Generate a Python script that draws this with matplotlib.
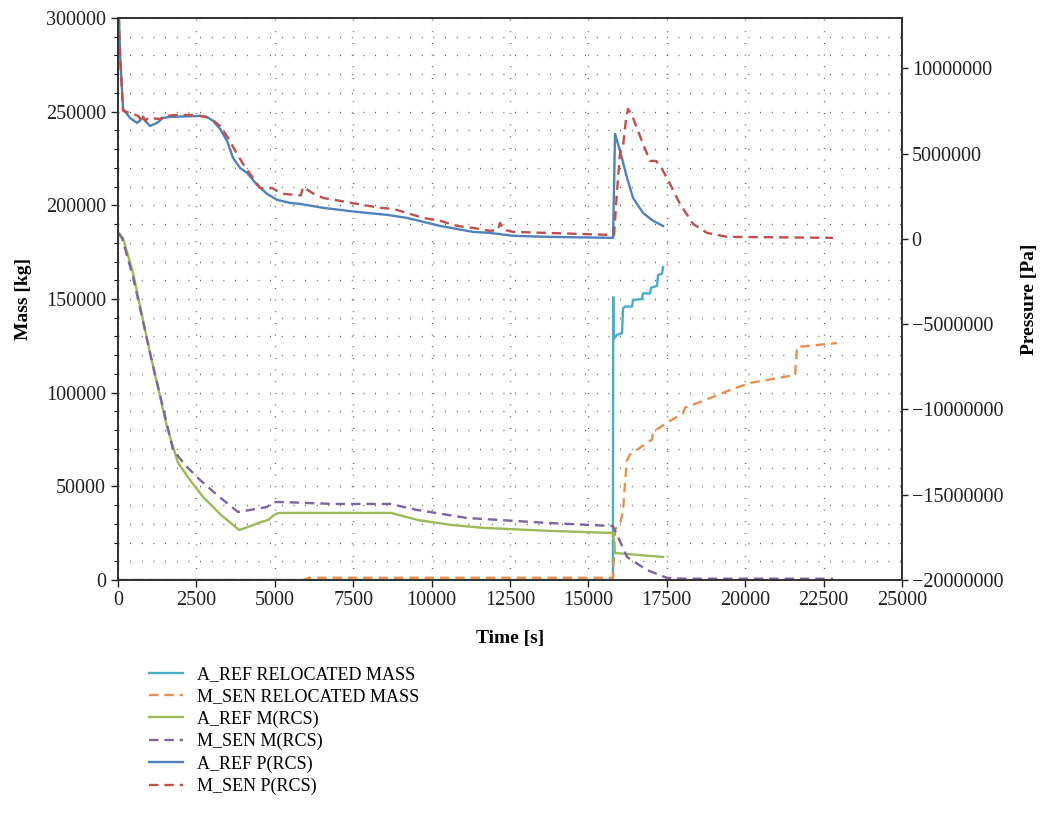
import matplotlib
matplotlib.use("Agg")
import matplotlib.pyplot as plt
from matplotlib.ticker import MultipleLocator, FuncFormatter

plt.rcParams['font.family'] = ['Liberation Serif', 'DejaVu Serif']

# A_REF RELOCATED MASS [kg]
t_relA = [0, 15780, 15790, 15800, 15912, 16071, 16104, 16167, 16390, 16422, 16709, 16741,
          16964, 16996, 17187, 17219, 17347, 17379]
m_relA = [0, 0, 151000, 128500, 130800, 131800, 145000, 146000, 146000, 149500, 150000, 153000,
          153000, 156000, 157000, 162800, 163500, 167000]

# M_SEN RELOCATED MASS [kg]
t_relM = [0, 5900, 6100, 15785, 15848, 16008, 16104, 16167, 16231, 16327, 17028, 17060,
          17507, 18017, 18080, 18559, 19515, 20153, 21588, 21652, 22927]
m_relM = [0, 0, 1200, 1200, 27000, 30000, 37000, 52000, 64000, 67000, 75000, 79000,
          84000, 89000, 92000, 95000, 101400, 105200, 109400, 124400, 126500]

# A_REF M(RCS) [kg]
t_mA = [0, 159, 478, 1020, 1562, 1913, 2296, 2711, 3285, 3859, 4146, 4560, 4783, 4974,
        5102, 5836, 8482, 8705, 9567, 10619, 11671, 13807, 15785, 15848, 17379]
m_mA = [185800, 182500, 163900, 121200, 81700, 62500, 53400, 44300, 34700, 26700, 28300,
        31000, 32000, 34700, 35800, 35800, 35800, 35800, 32000, 29400, 27800, 26200, 25100,
        14400, 12300]

# M_SEN M(RCS) [kg]
t_mM = [0, 127, 478, 1020, 1753, 2200, 2615, 3157, 3827, 4209, 4751, 4943, 5261, 6856,
        8673, 9535, 11128, 13775, 15785, 16231, 16869, 17507, 18017, 22800]
m_mM = [185200, 182500, 161800, 121200, 69400, 60300, 53400, 45400, 36300, 37400, 39000,
        41600, 41600, 40600, 40600, 37400, 33100, 30400, 28800, 12300, 5300, 1100, 700, 700]

# A_REF P(RCS) [Pa]
t_pA = [0, 60, 159, 383, 606, 797, 957, 1020, 1244, 1435, 1658, 2615, 2838, 3029, 3253,
        3476, 3667, 3890, 4113, 4432, 4751, 5070, 5485, 5804, 6537, 7621, 8578, 9216, 10268,
        11320, 11862, 12596, 13680, 15785, 15848, 16008, 16231, 16422, 16741, 17060, 17379]
p_pA = [15.5e6, 11.0e6, 7.62e6, 7.09e6, 6.80e6, 7.09e6, 6.74e6, 6.62e6, 6.80e6, 7.09e6,
        7.15e6, 7.21e6, 7.15e6, 6.92e6, 6.45e6, 5.74e6, 4.75e6, 4.16e6, 3.87e6, 3.17e6,
        2.64e6, 2.29e6, 2.11e6, 2.05e6, 1.82e6, 1.58e6, 1.41e6, 1.23e6, 0.76e6, 0.41e6,
        0.35e6, 0.18e6, 0.12e6, 0.06e6, 6.15e6, 5.16e6, 3.58e6, 2.40e6, 1.52e6, 1.06e6, 0.76e6]

# M_SEN P(RCS) [Pa]
t_pM = [0, 70, 159, 383, 638, 702, 765, 861, 957, 1339, 1499, 1881, 2296, 2615, 2934, 3253,
        3508, 3795, 3986, 4209, 4369, 4528, 4751, 4911, 5070, 5261, 5830, 5899, 6186, 6537,
        7079, 7621, 8355, 8769, 9216, 9726, 10268, 10810, 11320, 11862, 12117, 12181, 12309,
        12596, 13680, 14732, 15753, 15816, 15912, 16008, 16104, 16199, 16263, 16422, 16741,
        16964, 17156, 17347, 17602, 17921, 18335, 18782, 19420, 22800]
p_pM = [14.0e6, 10.5e6, 7.50e6, 7.39e6, 7.21e6, 7.03e6, 7.33e6, 6.92e6, 7.09e6, 7.03e6,
        7.21e6, 7.27e6, 7.27e6, 7.21e6, 7.09e6, 6.62e6, 5.92e6, 4.98e6, 4.40e6, 3.81e6,
        3.40e6, 2.99e6, 2.93e6, 2.99e6, 2.81e6, 2.64e6, 2.55e6, 3.05e6, 2.70e6, 2.40e6,
        2.23e6, 2.05e6, 1.82e6, 1.76e6, 1.52e6, 1.23e6, 1.06e6, 0.76e6, 0.64e6, 0.47e6,
        0.53e6, 0.94e6, 0.53e6, 0.41e6, 0.35e6, 0.29e6, 0.23e6, 0.23e6, 2.81e6, 5.04e6,
        5.45e6, 7.03e6, 7.62e6, 7.09e6, 5.57e6, 4.57e6, 4.57e6, 4.10e6, 3.22e6, 2.05e6,
        0.88e6, 0.35e6, 0.12e6, 0.06e6]

c_teal = '#4bacc6'
c_orange = '#e8904f'
c_green = '#9bbb59'
c_purple = '#8064a2'
c_blue = '#4f81bd'
c_red = '#c0504d'
dash = (0, (4, 2.5))

fig = plt.figure(figsize=(10.41, 8.22), dpi=100)
ax = fig.add_axes([0.1134, 0.2944, 0.7531, 0.6837])
ax2 = ax.twinx()

lw = 1.7
h1, = ax.plot(t_relA, m_relA, color=c_teal, lw=lw, label='A_REF RELOCATED MASS')
h2, = ax.plot(t_relM, m_relM, color=c_orange, lw=lw, ls=dash, label='M_SEN RELOCATED MASS')
h3, = ax.plot(t_mA, m_mA, color=c_green, lw=lw, label='A_REF M(RCS)')
h4, = ax.plot(t_mM, m_mM, color=c_purple, lw=lw, ls=dash, label='M_SEN M(RCS)')
h5, = ax2.plot(t_pA, p_pA, color=c_blue, lw=lw, label='A_REF P(RCS)')
h6, = ax2.plot(t_pM, p_pM, color=c_red, lw=lw, ls=dash, label='M_SEN P(RCS)')

ax.set_xlim(0, 25000)
ax.set_ylim(0, 300000)
ax2.set_ylim(-20e6, 12.95e6)

ax.xaxis.set_major_locator(MultipleLocator(2500))
ax.yaxis.set_major_locator(MultipleLocator(50000))
ax.yaxis.set_minor_locator(MultipleLocator(10000))
ax2.yaxis.set_major_locator(MultipleLocator(5e6))

plain = FuncFormatter(lambda v, p: ('%d' % round(v)).replace('-', '\u2212'))
ax.xaxis.set_major_formatter(plain)
ax.yaxis.set_major_formatter(plain)
ax2.yaxis.set_major_formatter(plain)

grid_kw = dict(color='#444444', lw=1.0, ls=(0, (0.6, 7.8)))
ax.grid(True, which='major', axis='x', **grid_kw)
ax.grid(True, which='both', axis='y', **grid_kw)
ax.set_axisbelow(True)

for a in (ax, ax2):
    for s in a.spines.values():
        s.set_color('#333333')
        s.set_linewidth(1.3)
    a.tick_params(labelsize=14.5, colors='#222222', width=1.0, length=5)
ax.tick_params(which='minor', length=3, width=0.8)
ax.tick_params(axis='x', pad=3)
ax2.tick_params(length=4, pad=3)

ax.set_xlabel('Time [s]', fontsize=14, fontweight='bold', labelpad=14)
ax.set_ylabel('Mass [kg]', fontsize=14, fontweight='bold', labelpad=10)
ax2.set_ylabel('Pressure [Pa]', fontsize=14, fontweight='bold', labelpad=13)

fig.legend(handles=[h1, h2, h3, h4, h5, h6], loc='upper left',
           bbox_to_anchor=(0.128, 0.2096), frameon=False, fontsize=13,
           handlelength=1.85, labelspacing=0.29, handletextpad=0.8)

fig.savefig('out.png', dpi=100)
